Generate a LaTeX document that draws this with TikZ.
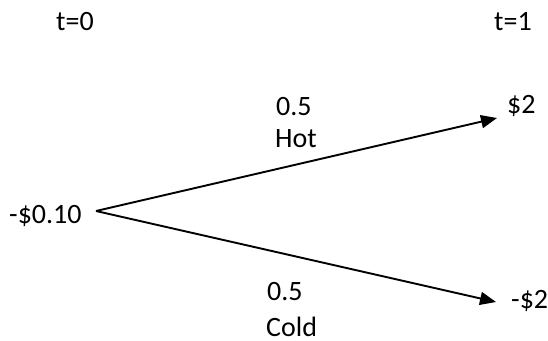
\documentclass[tikz,border=0pt]{standalone}
\usepackage{fontspec}
\setmainfont{Carlito}
\usetikzlibrary{arrows.meta}

\begin{document}
\begin{tikzpicture}[x=1pt,y=-1pt,
  lbl/.style={anchor=base west,inner sep=0pt,font=\fontsize{28}{33}\selectfont},
  branch/.style={line width=1.9pt,-{Triangle[length=16pt,width=13pt]}}]
  \useasboundingbox (0,0) rectangle (548,340);

  % time labels
  \node[lbl] (t0) at (56,30) {t=0};
  \node[lbl] (t1) at (494,30) {t=1};

  % payoffs
  \node[lbl] (now) at (9,223) {-\$0.10};
  \node[lbl] (up) at (507,113) {\$2};
  \node[lbl] (down) at (511,308) {-\$2};

  % branch probabilities and states
  \node[lbl] (pup) at (276,115) {0.5};
  \node[lbl] (hot) at (275,147) {Hot};
  \node[lbl] (pdown) at (267,300) {0.5};
  \node[lbl] (cold) at (266,336) {Cold};

  % tree branches
  \coordinate (root) at (96,211);
  \coordinate (uptip) at (497,118);
  \coordinate (downtip) at (496,302);
  \draw[branch] (root) -- (uptip);
  \draw[branch] (root) -- (downtip);
\end{tikzpicture}
\end{document}
